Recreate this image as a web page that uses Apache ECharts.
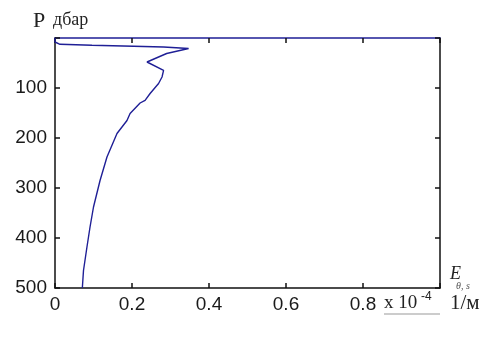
<!DOCTYPE html>
<html>
<head>
<meta charset="utf-8">
<script src="https://cdn.jsdelivr.net/npm/echarts@6/dist/echarts.min.js"></script>
<style>
  html, body { margin: 0; padding: 0; background: #fff; }
  #main { width: 484px; height: 343px; }
</style>
</head>
<body>
<div id="main"></div>
<script>
// профиль E(θ,s) по давлению, x в единицах 1e-4 1/м
var eValues = [0, 0, 0.013, 0.096, 0.204, 0.282, 0.347, 0.29, 0.239, 0.282, 0.278, 0.269, 0.247, 0.234, 0.221,
               0.195, 0.187, 0.161, 0.135, 0.117, 0.100, 0.091, 0.083, 0.074, 0.071];
var pValues = [0, 8, 12.6, 14.6, 16.6, 18, 21, 31, 48, 64.6, 78, 91, 111, 124.6, 130,
               151, 165, 191, 238, 285, 338, 378, 418, 465, 500];
var xTicks = [0, 0.2, 0.4, 0.6, 0.8];
var yTicks = [100, 200, 300, 400, 500];

var chart = echarts.init(document.getElementById('main'));

var points = [];
for (var i = 0; i < eValues.length; i++) {
	points.push([eValues[i], pValues[i]]);
}

var navy = '#1f1f96';

function makeTick() {
	return { show: true, inside: true, length: 5, lineStyle: { color: '#111', width: 1.5 } };
}
function makeLine(c) {
	return { show: true, onZero: false, lineStyle: { color: c, width: 1.5 } };
}

var option = {
	animation: false,
	backgroundColor: '#fff',
	grid: { left: 55, top: 38, right: 44, bottom: 55 },
	xAxis: [
		{
			type: 'value', min: 0, max: 1, interval: 0.2, position: 'bottom',
			axisLine: makeLine('#111'),
			axisTick: makeTick(),
			splitLine: { show: false },
			axisLabel: {
				margin: 7, color: '#1a1a1a', fontSize: 19, fontFamily: 'Liberation Sans',
				formatter: function (v) {
					for (var k = 0; k < xTicks.length; k++) {
						if (Math.abs(xTicks[k] - v) < 1e-6) return v === 0 ? '0' : xTicks[k].toFixed(1);
					}
					return '';
				}
			}
		},
		{
			type: 'value', min: 0, max: 1, interval: 0.2, position: 'top',
			axisLine: makeLine(navy),
			axisTick: makeTick(),
			axisLabel: { show: false },
			splitLine: { show: false }
		}
	],
	yAxis: [
		{
			type: 'value', min: 0, max: 500, interval: 100, inverse: true, position: 'left',
			axisLine: makeLine('#111'),
			axisTick: makeTick(),
			splitLine: { show: false },
			axisLabel: {
				margin: 8, color: '#1a1a1a', fontSize: 19, fontFamily: 'Liberation Sans',
				formatter: function (v) {
					return yTicks.indexOf(v) >= 0 ? String(v) : '';
				}
			}
		},
		{
			type: 'value', min: 0, max: 500, interval: 100, inverse: true, position: 'right',
			axisLine: makeLine('#111'),
			axisTick: makeTick(),
			axisLabel: { show: false },
			splitLine: { show: false }
		}
	],
	series: [
		{
			type: 'line',
			data: points,
			symbol: 'none',
			lineStyle: { color: navy, width: 1.4 }
		}
	],
	graphic: [
		{ type: 'text', left: 33, top: 10, style: { text: 'P', fill: '#222', font: '22px "Liberation Serif"' } },
		{ type: 'text', left: 53, top: 11, style: { text: 'дбар', fill: '#222', font: '18px "Liberation Serif"' } },
		{ type: 'text', left: 450, top: 265, style: { text: 'E', fill: '#222', font: 'italic 18px "Liberation Serif"' } },
		{ type: 'text', left: 456, top: 281, style: { text: 'θ, s', fill: '#555', font: 'italic 10px "Liberation Serif"' } },
		{ type: 'text', left: 384, top: 294, style: { text: 'x 10', fill: '#222', font: '19px "Liberation Serif"' } },
		{ type: 'text', left: 421, top: 291, style: { text: '-4', fill: '#222', font: '12px "Liberation Sans"' } },
		{ type: 'line', shape: { x1: 384, y1: 314, x2: 440, y2: 314 }, style: { stroke: '#bbb', lineWidth: 1.5 } },
		{ type: 'text', left: 450, top: 293, style: { text: '1/м', fill: '#222', font: '21px "Liberation Serif"' } }
	]
};
chart.setOption(option);
</script>
</body>
</html>
